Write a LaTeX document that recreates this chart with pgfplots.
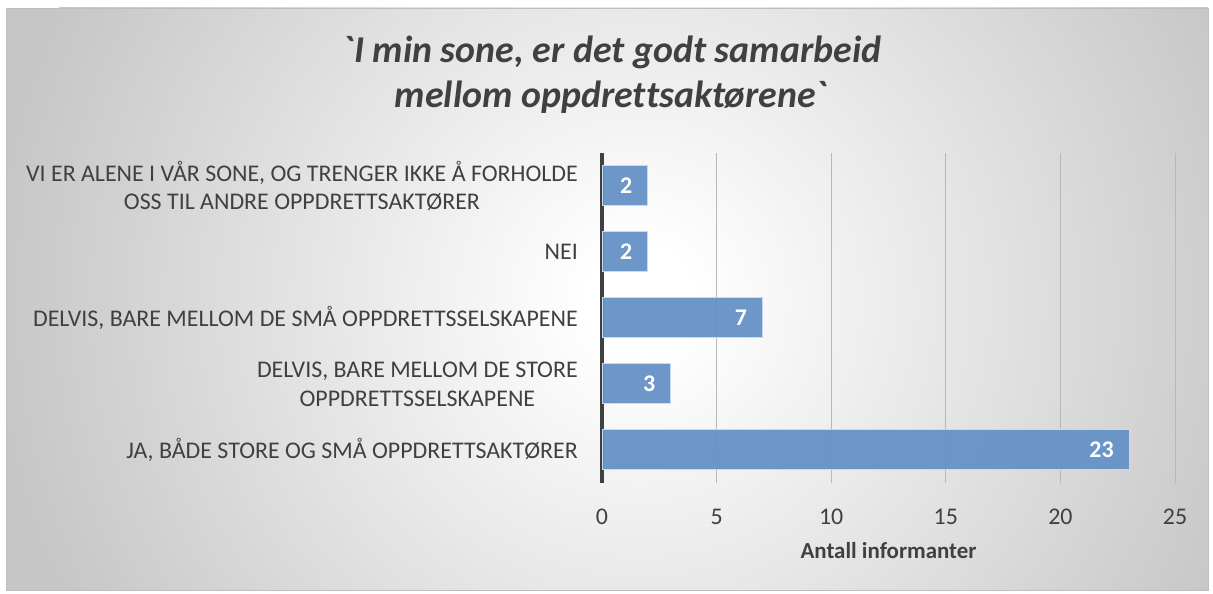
\documentclass[border=0pt]{standalone}
\usepackage{pgfplots}
\pgfplotsset{compat=1.18}
\usepackage{fontspec}
\setmainfont{Carlito}
\newfontfamily\titlefont{Carlito}[Ligatures={TeXOff,NoCommon}]
\definecolor{txt}{RGB}{64,64,64}
\definecolor{barc}{RGB}{102,146,198}
\definecolor{bare}{RGB}{200,218,238}
\definecolor{bgout}{RGB}{198,198,198}
\definecolor{framec}{RGB}{190,190,190}
\pgfdeclareradialshading{bgshade}{\pgfpoint{0bp}{0bp}}{color(0bp)=(white); color(2bp)=(white); color(25bp)=(bgout); color(50bp)=(bgout)}
\begin{document}
\begin{tikzpicture}[x=1bp,y=1bp]
\path[use as bounding box, fill=white] (0,0) rectangle (1213,594);
\begin{scope}
\clip (6,4) rectangle (1208,586);
\fill[bgout] (6,4) rectangle (1208,586);
\shade[shading=bgshade] (640,294) circle (650bp);
\end{scope}
\draw[framec, line width=0.8bp] (6,4) rectangle (1208,586);
\node[anchor=base, text=txt, font=\titlefont\bfseries\itshape\fontsize{38}{45}\selectfont] at (612,531) {`I min sone, er det godt samarbeid};
\node[anchor=base, text=txt, font=\titlefont\bfseries\itshape\fontsize{38}{45}\selectfont] at (611,486) {mellom oppdret\kern0pt tsaktørene`};
\begin{axis}[
  at={(602bp,111bp)}, anchor=south west,
  scale only axis, width=573bp, height=330bp,
  xbar, bar width=40bp,
  xmin=0, xmax=25, ymin=-0.5, ymax=4.5,
  axis y line*=left, axis x line*=bottom,
  x axis line style={draw=none},
  y axis line style={draw=txt, line width=4bp},
  xtick={0,5,...,25}, ytick={0,...,4},
  major tick length=0pt,
  xmajorgrids, grid style={black!28, line width=1bp},
  /pgf/number format/assume math mode=true,
  tick label style={text=txt, font=\fontsize{24}{29}\selectfont},
  xticklabel style={anchor=center, yshift=-34bp},
  yticklabel style={anchor=east, xshift=-24bp, inner sep=0pt, align=center},
  yticklabels={{JA, BÅDE STORE OG SMÅ OPPDRETTSAKTØRER},
               {DELVIS, BARE MELLOM DE STORE\\OPPDRETTSSELSKAPENE},
               {DELVIS, BARE MELLOM DE SMÅ OPPDRETTSSELSKAPENE},
               {NEI},
               {VI ER ALENE I VÅR SONE, OG TRENGER IKKE Å FORHOLDE\\OSS TIL ANDRE OPPDRETTSAKTØRER}},
  xlabel={Antall informanter},
  xlabel style={at={(rel axis cs:0.5,0)}, anchor=center, yshift=-68bp, text=txt, font=\bfseries\fontsize{23}{27}\selectfont},
  nodes near coords,
  nodes near coords style={anchor=east, xshift=-15bp, inner sep=0pt, text=white, font=\bfseries\fontsize{24}{29}\selectfont},
]
\addplot[fill=barc, fill opacity=0.95, draw=bare, line width=1bp, text opacity=1] coordinates {(23,0) (3,1) (7,2) (2,3) (2,4)};
\end{axis}
\end{tikzpicture}
\end{document}
